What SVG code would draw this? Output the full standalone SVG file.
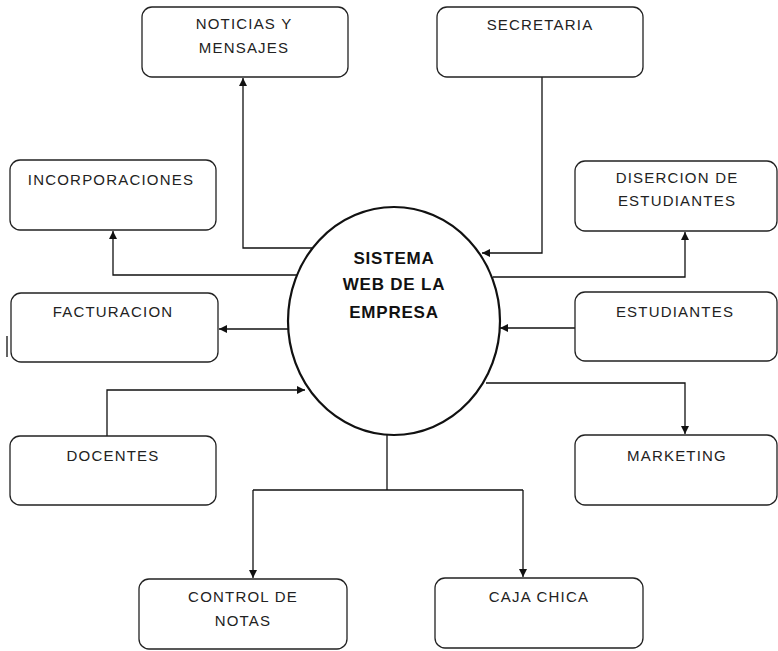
<svg xmlns="http://www.w3.org/2000/svg" width="778" height="651" viewBox="0 0 778 651">
  <style>
    .box { fill: #fff; stroke: #222; stroke-width: 1.3; }
    .lbl { font-family: "Liberation Sans", Arial, sans-serif; font-size: 15px; letter-spacing: 1.2px; fill: #222; text-anchor: middle; }
    .core { font-family: "Liberation Sans", Arial, sans-serif; font-size: 17px; letter-spacing: 0.8px; font-weight: bold; fill: #111; text-anchor: middle; }
    .wire { fill: none; stroke: #111; stroke-width: 1.3; }
  </style>
  <defs>
    <marker id="arrow" viewBox="0 0 10 10" refX="10" refY="5" markerWidth="8" markerHeight="8" markerUnits="userSpaceOnUse" orient="auto">
      <path d="M0,0 L10,5 L0,10 Z" fill="#111"/>
    </marker>
  </defs>
  <rect width="778" height="651" fill="#fff"/>

  <g id="connectors">
    <path class="wire" d="M312,248 H243 V78" marker-end="url(#arrow)"/>
    <path class="wire" d="M297,275 H113 V231" marker-end="url(#arrow)"/>
    <path class="wire" d="M289,329 H219" marker-end="url(#arrow)"/>
    <path class="wire" d="M107,436 V390 H305" marker-end="url(#arrow)"/>
    <path class="wire" d="M542,77 V253 H482" marker-end="url(#arrow)"/>
    <path class="wire" d="M493,277 H685 V232" marker-end="url(#arrow)"/>
    <path class="wire" d="M575,328 H500" marker-end="url(#arrow)"/>
    <path class="wire" d="M486,383 H685 V434" marker-end="url(#arrow)"/>
    <path class="wire" d="M387,435 V490"/>
    <path class="wire" d="M253,490 H523"/>
    <path class="wire" d="M253,490 V578" marker-end="url(#arrow)"/>
    <path class="wire" d="M523,490 V577" marker-end="url(#arrow)"/>
    <line class="wire" x1="7" y1="336" x2="7" y2="357"/>
  </g>

  <g id="sistema">
    <ellipse cx="394" cy="321" rx="106" ry="114" fill="#fff" stroke="#111" stroke-width="2.2"/>
    <text class="core" x="394" y="264">SISTEMA</text>
    <text class="core" x="394" y="290">WEB DE LA</text>
    <text class="core" x="394" y="318">EMPRESA</text>
  </g>

  <g id="noticias">
    <rect class="box" x="142" y="7" width="206" height="70" rx="10"/>
    <text class="lbl" x="244" y="29">NOTICIAS Y</text>
    <text class="lbl" x="244" y="53">MENSAJES</text>
  </g>
  <g id="secretaria">
    <rect class="box" x="437" y="7" width="206" height="70" rx="10"/>
    <text class="lbl" x="540" y="30">SECRETARIA</text>
  </g>
  <g id="incorporaciones">
    <rect class="box" x="10" y="160" width="206" height="70" rx="10"/>
    <text class="lbl" x="111" y="185">INCORPORACIONES</text>
  </g>
  <g id="disercion">
    <rect class="box" x="575" y="161" width="202" height="70" rx="10"/>
    <text class="lbl" x="677" y="183">DISERCION DE</text>
    <text class="lbl" x="677" y="206">ESTUDIANTES</text>
  </g>
  <g id="facturacion">
    <rect class="box" x="11" y="293" width="207" height="69" rx="10"/>
    <text class="lbl" x="113" y="317">FACTURACION</text>
  </g>
  <g id="estudiantes">
    <rect class="box" x="575" y="292" width="202" height="69" rx="10"/>
    <text class="lbl" x="675" y="317">ESTUDIANTES</text>
  </g>
  <g id="docentes">
    <rect class="box" x="10" y="436" width="206" height="69" rx="10"/>
    <text class="lbl" x="113" y="461">DOCENTES</text>
  </g>
  <g id="marketing">
    <rect class="box" x="575" y="435" width="202" height="70" rx="10"/>
    <text class="lbl" x="677" y="461">MARKETING</text>
  </g>
  <g id="control-notas">
    <rect class="box" x="139" y="579" width="208" height="70" rx="10"/>
    <text class="lbl" x="243" y="602">CONTROL DE</text>
    <text class="lbl" x="243" y="626">NOTAS</text>
  </g>
  <g id="caja-chica">
    <rect class="box" x="435" y="578" width="208" height="70" rx="10"/>
    <text class="lbl" x="539" y="602">CAJA CHICA</text>
  </g>
</svg>
